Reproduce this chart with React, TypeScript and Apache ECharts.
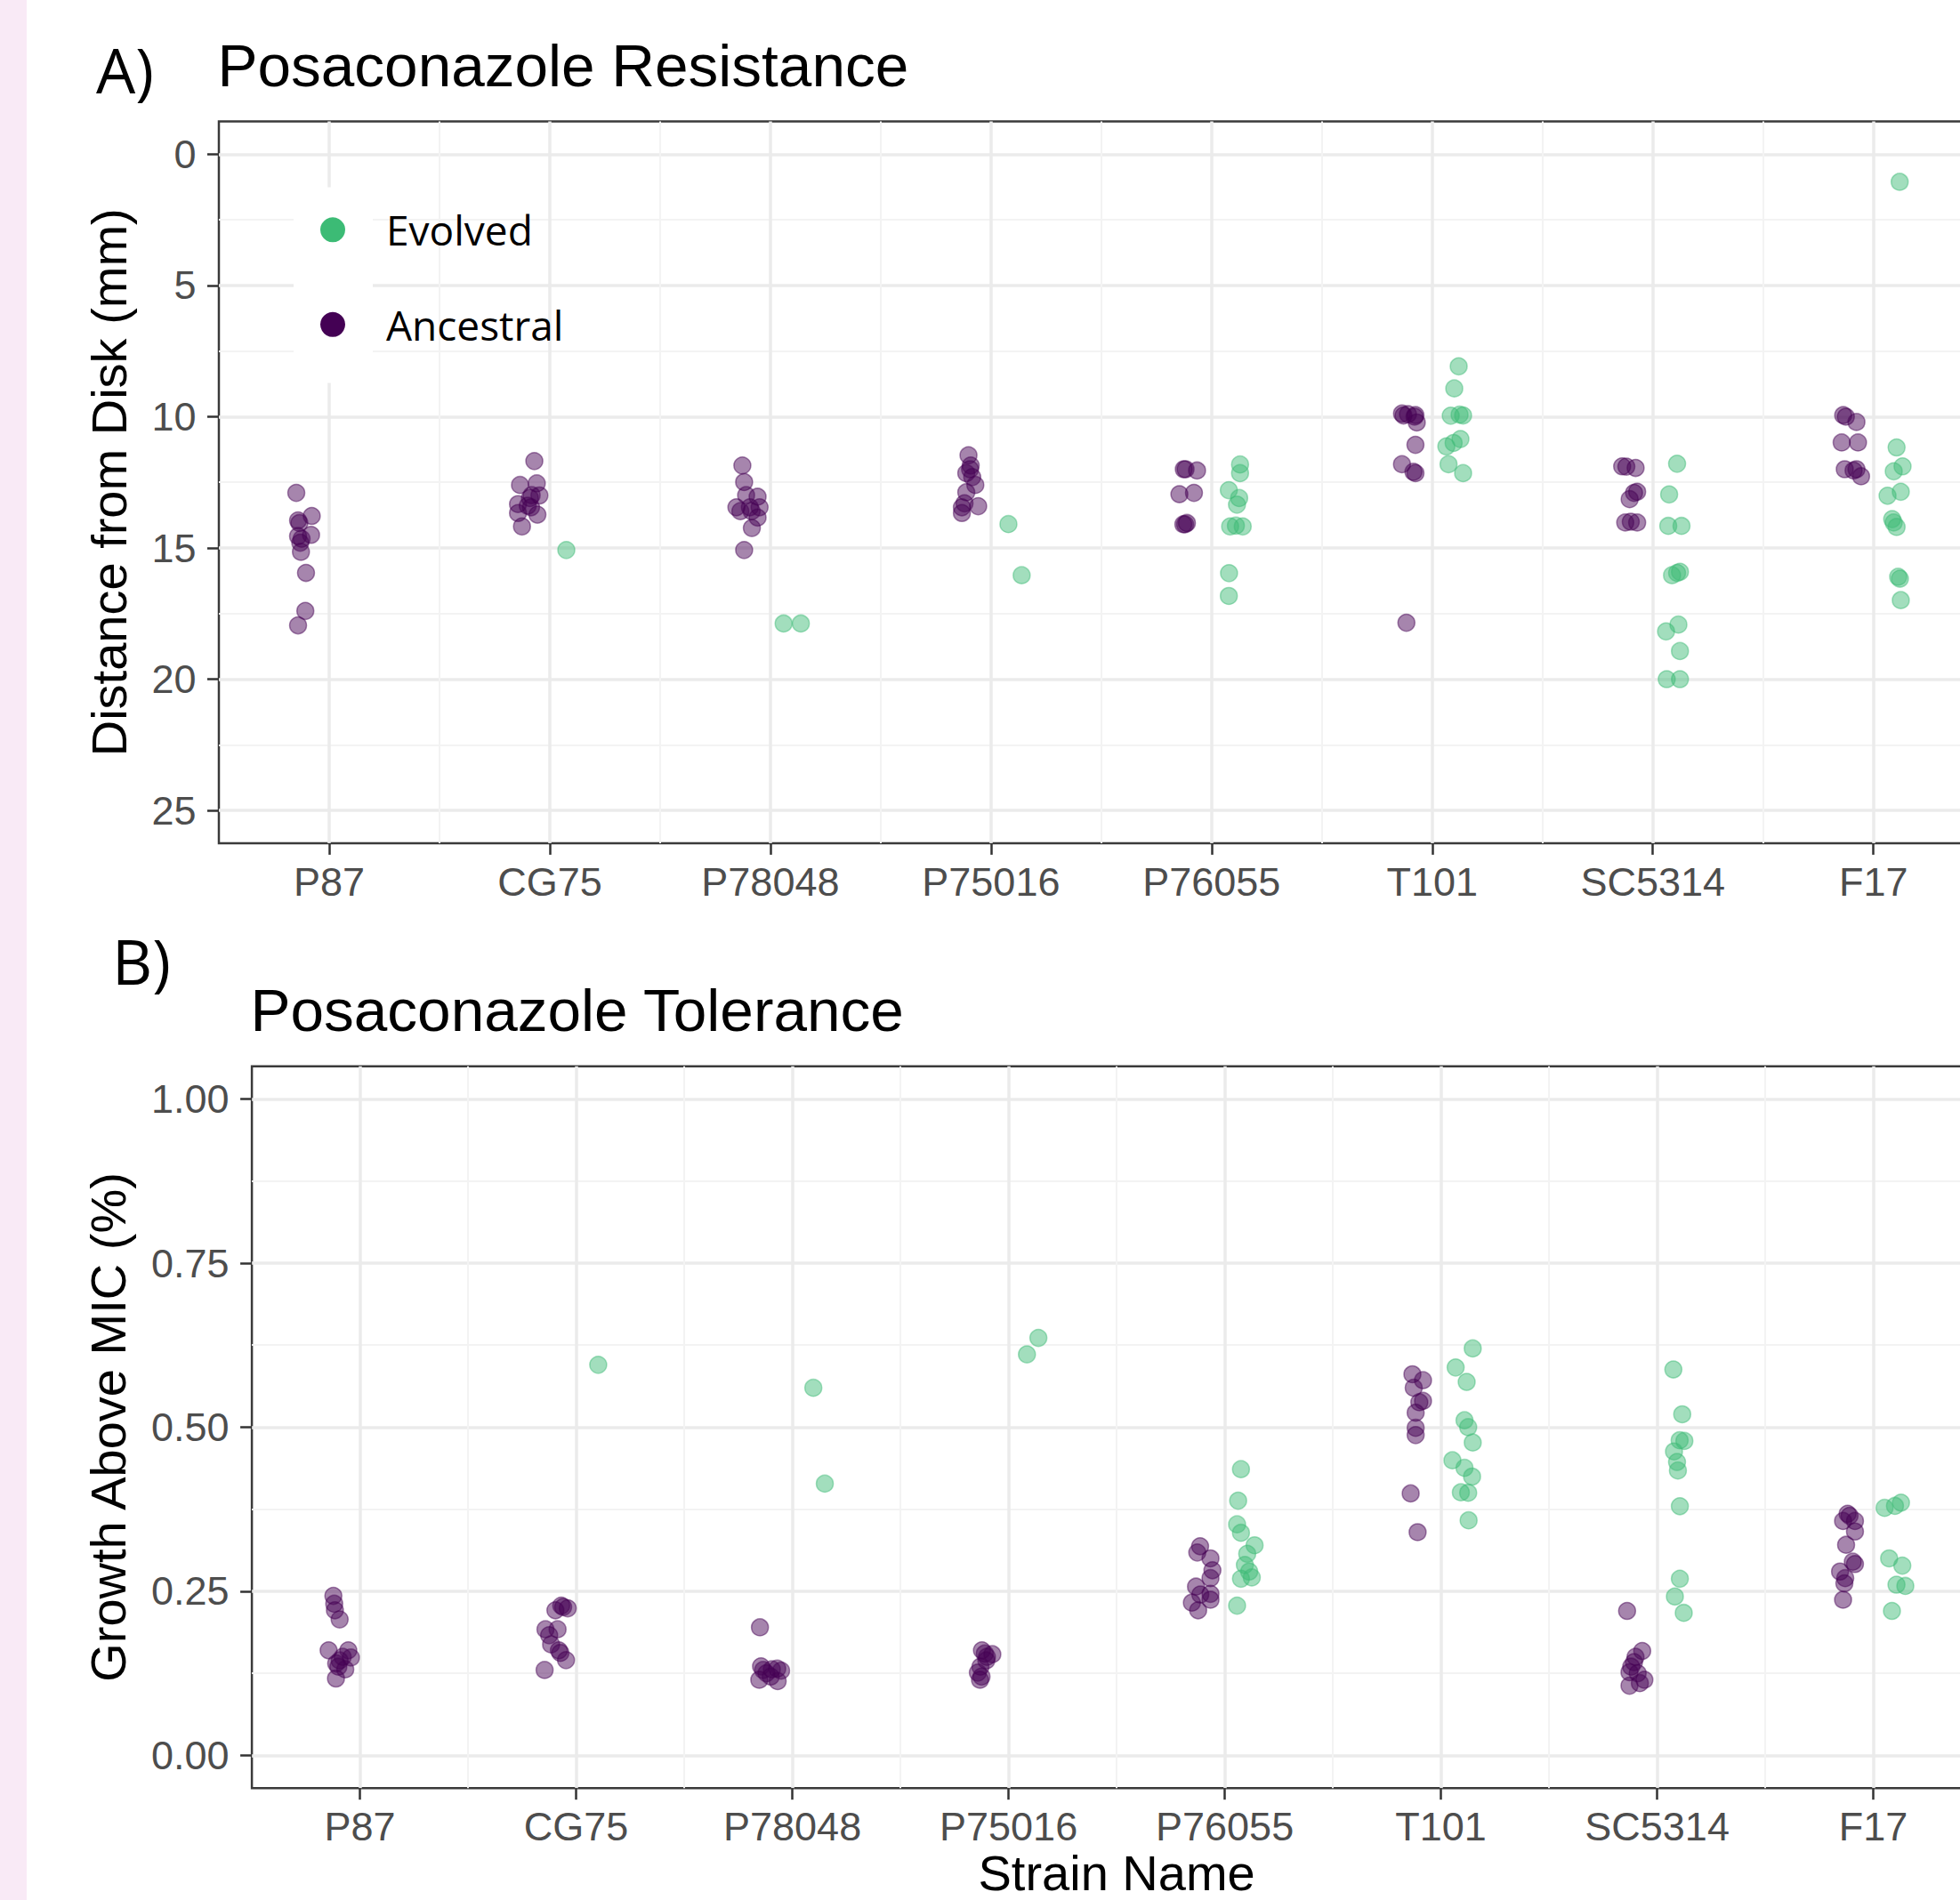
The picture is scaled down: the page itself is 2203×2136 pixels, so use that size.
import React, { useEffect, useRef } from "react";
import * as echarts from "echarts";

// ---------------- data ----------------
const strains = ["P87", "CG75", "P78048", "P75016", "P76055", "T101", "SC5314", "F17"];
const resistanceTicks = [0, 5, 10, 15, 20, 25];
const toleranceTicks = [0, 0.25, 0.5, 0.75, 1];

type Row = [string, number, number]; // [strain, horizontal jitter (category units), value]

// Panel A: distance from disk (mm)
const resistanceAncestral: Row[] = [
  ["P87", -0.149, 12.9], ["P87", -0.141, 13.95], ["P87", -0.135, 14.05], ["P87", -0.079, 13.78],
  ["P87", -0.141, 14.55], ["P87", -0.125, 14.65], ["P87", -0.082, 14.5], ["P87", -0.131, 14.8],
  ["P87", -0.128, 15.15], ["P87", -0.105, 15.95], ["P87", -0.108, 17.4], ["P87", -0.141, 17.95],
  ["CG75", -0.07, 11.69], ["CG75", -0.135, 12.6], ["CG75", -0.059, 12.54], ["CG75", -0.082, 12.99],
  ["CG75", -0.047, 13.0], ["CG75", -0.09, 13.1], ["CG75", -0.144, 13.33], ["CG75", -0.1, 13.39],
  ["CG75", -0.085, 13.45], ["CG75", -0.144, 13.67], ["CG75", -0.056, 13.73], ["CG75", -0.126, 14.18],
  ["P78048", -0.127, 11.86], ["P78048", -0.119, 12.49], ["P78048", -0.11, 12.99], ["P78048", -0.058, 13.05],
  ["P78048", -0.154, 13.45], ["P78048", -0.093, 13.45], ["P78048", -0.049, 13.45], ["P78048", -0.136, 13.6],
  ["P78048", -0.085, 13.6], ["P78048", -0.058, 13.84], ["P78048", -0.084, 14.24], ["P78048", -0.119, 15.08],
  ["P75016", -0.102, 11.47], ["P75016", -0.092, 11.86], ["P75016", -0.095, 12.0], ["P75016", -0.112, 12.15],
  ["P75016", -0.085, 12.3], ["P75016", -0.071, 12.6], ["P75016", -0.112, 12.88], ["P75016", -0.12, 13.3],
  ["P75016", -0.132, 13.45], ["P75016", -0.058, 13.41], ["P75016", -0.132, 13.67],
  ["P76055", -0.126, 12.0], ["P76055", -0.118, 12.0], ["P76055", -0.066, 12.05], ["P76055", -0.146, 12.95],
  ["P76055", -0.08, 12.9], ["P76055", -0.12, 14.1], ["P76055", -0.128, 14.1], ["P76055", -0.112, 14.05],
  ["T101", -0.137, 9.88], ["T101", -0.13, 9.95], ["T101", -0.11, 9.9], ["T101", -0.076, 9.94],
  ["T101", -0.08, 10.0], ["T101", -0.07, 10.22], ["T101", -0.076, 11.07], ["T101", -0.137, 11.81],
  ["T101", -0.076, 12.15], ["T101", -0.085, 12.1], ["T101", -0.117, 17.85],
  ["SC5314", -0.139, 11.89], ["SC5314", -0.12, 11.9], ["SC5314", -0.078, 11.95], ["SC5314", -0.071, 12.86],
  ["SC5314", -0.085, 12.9], ["SC5314", -0.105, 13.14], ["SC5314", -0.125, 14.03], ["SC5314", -0.1, 14.0],
  ["SC5314", -0.071, 14.03],
  ["F17", -0.137, 9.94], ["F17", -0.125, 10.0], ["F17", -0.077, 10.2], ["F17", -0.144, 10.98],
  ["F17", -0.07, 10.98], ["F17", -0.13, 12.0], ["F17", -0.077, 12.0], ["F17", -0.09, 12.05],
  ["F17", -0.056, 12.27],
];

const resistanceEvolved: Row[] = [
  ["CG75", 0.075, 15.08],
  ["P78048", 0.06, 17.88], ["P78048", 0.138, 17.88],
  ["P75016", 0.079, 14.09], ["P75016", 0.139, 16.04],
  ["P76055", 0.129, 11.82], ["P76055", 0.129, 12.15], ["P76055", 0.078, 12.8], ["P76055", 0.125, 13.1],
  ["P76055", 0.115, 13.35], ["P76055", 0.084, 14.18], ["P76055", 0.141, 14.18], ["P76055", 0.11, 14.15],
  ["P76055", 0.079, 15.96], ["P76055", 0.078, 16.83],
  ["T101", 0.12, 8.08], ["T101", 0.1, 8.92], ["T101", 0.084, 9.96], ["T101", 0.124, 9.92],
  ["T101", 0.14, 9.95], ["T101", 0.128, 10.85], ["T101", 0.097, 11.0], ["T101", 0.064, 11.13],
  ["T101", 0.074, 11.81], ["T101", 0.14, 12.15],
  ["SC5314", 0.11, 11.79], ["SC5314", 0.074, 12.96], ["SC5314", 0.07, 14.16], ["SC5314", 0.13, 14.16],
  ["SC5314", 0.123, 15.91], ["SC5314", 0.11, 15.95], ["SC5314", 0.087, 16.04], ["SC5314", 0.116, 17.92],
  ["SC5314", 0.06, 18.18], ["SC5314", 0.123, 18.93], ["SC5314", 0.063, 20.0], ["SC5314", 0.123, 20.0],
  ["F17", 0.119, 1.05], ["F17", 0.105, 11.17], ["F17", 0.132, 11.89], ["F17", 0.092, 12.08],
  ["F17", 0.124, 12.86], ["F17", 0.064, 13.01], ["F17", 0.085, 13.9], ["F17", 0.092, 14.03],
  ["F17", 0.105, 14.2], ["F17", 0.112, 16.1], ["F17", 0.12, 16.17], ["F17", 0.124, 16.99],
];

// Panel B: growth above MIC
const toleranceAncestral: Row[] = [
  ["P87", -0.123, 0.243], ["P87", -0.119, 0.231], ["P87", -0.116, 0.221], ["P87", -0.094, 0.207],
  ["P87", -0.145, 0.16], ["P87", -0.054, 0.16], ["P87", -0.08, 0.15], ["P87", -0.042, 0.149],
  ["P87", -0.094, 0.1445], ["P87", -0.11, 0.14], ["P87", -0.1, 0.135], ["P87", -0.068, 0.131],
  ["P87", -0.111, 0.117],
  ["CG75", -0.069, 0.228], ["CG75", -0.06, 0.226], ["CG75", -0.039, 0.224], ["CG75", -0.096, 0.221],
  ["CG75", -0.142, 0.192], ["CG75", -0.086, 0.192], ["CG75", -0.125, 0.183], ["CG75", -0.116, 0.169],
  ["CG75", -0.08, 0.16], ["CG75", -0.073, 0.156], ["CG75", -0.047, 0.145], ["CG75", -0.146, 0.13],
  ["P78048", -0.15, 0.195], ["P78048", -0.145, 0.1355], ["P78048", -0.135, 0.13], ["P78048", -0.095, 0.131],
  ["P78048", -0.07, 0.132], ["P78048", -0.052, 0.129], ["P78048", -0.12, 0.125], ["P78048", -0.1, 0.12],
  ["P78048", -0.153, 0.115], ["P78048", -0.068, 0.113],
  ["P75016", -0.123, 0.16], ["P75016", -0.11, 0.155], ["P75016", -0.075, 0.154], ["P75016", -0.1, 0.15],
  ["P75016", -0.103, 0.1445], ["P75016", -0.13, 0.135], ["P75016", -0.142, 0.126], ["P75016", -0.125, 0.12],
  ["P75016", -0.132, 0.115],
  ["P76055", -0.114, 0.3186], ["P76055", -0.127, 0.309], ["P76055", -0.066, 0.3], ["P76055", -0.057, 0.282],
  ["P76055", -0.066, 0.27], ["P76055", -0.133, 0.257], ["P76055", -0.066, 0.246], ["P76055", -0.113, 0.245],
  ["P76055", -0.066, 0.237], ["P76055", -0.152, 0.2326], ["P76055", -0.123, 0.221],
  ["T101", -0.132, 0.5806], ["T101", -0.083, 0.5715], ["T101", -0.126, 0.56], ["T101", -0.083, 0.54],
  ["T101", -0.1, 0.538], ["T101", -0.117, 0.522], ["T101", -0.117, 0.499], ["T101", -0.117, 0.488],
  ["T101", -0.14, 0.399], ["T101", -0.108, 0.34],
  ["SC5314", -0.139, 0.22], ["SC5314", -0.069, 0.159], ["SC5314", -0.1, 0.15], ["SC5314", -0.107, 0.142],
  ["SC5314", -0.12, 0.135], ["SC5314", -0.128, 0.1265], ["SC5314", -0.09, 0.125], ["SC5314", -0.059, 0.115],
  ["SC5314", -0.08, 0.11], ["SC5314", -0.128, 0.106],
  ["F17", -0.119, 0.368], ["F17", -0.11, 0.365], ["F17", -0.14, 0.357], ["F17", -0.085, 0.357],
  ["F17", -0.085, 0.341], ["F17", -0.126, 0.3207], ["F17", -0.095, 0.295], ["F17", -0.085, 0.2915],
  ["F17", -0.154, 0.28], ["F17", -0.13, 0.27], ["F17", -0.134, 0.262], ["F17", -0.14, 0.237],
];

const toleranceEvolved: Row[] = [
  ["CG75", 0.102, 0.595],
  ["P78048", 0.097, 0.56], ["P78048", 0.15, 0.414],
  ["P75016", 0.085, 0.611], ["P75016", 0.138, 0.636],
  ["P76055", 0.075, 0.436], ["P76055", 0.062, 0.388], ["P76055", 0.057, 0.352], ["P76055", 0.075, 0.339],
  ["P76055", 0.138, 0.32], ["P76055", 0.104, 0.307], ["P76055", 0.093, 0.29], ["P76055", 0.113, 0.28],
  ["P76055", 0.125, 0.271], ["P76055", 0.075, 0.269], ["P76055", 0.057, 0.228],
  ["T101", 0.147, 0.62], ["T101", 0.068, 0.591], ["T101", 0.119, 0.569], ["T101", 0.109, 0.5105],
  ["T101", 0.126, 0.5], ["T101", 0.147, 0.4766], ["T101", 0.053, 0.4495], ["T101", 0.109, 0.438],
  ["T101", 0.144, 0.4247], ["T101", 0.092, 0.4007], ["T101", 0.126, 0.4], ["T101", 0.128, 0.358],
  ["SC5314", 0.075, 0.588], ["SC5314", 0.116, 0.5196], ["SC5314", 0.126, 0.479], ["SC5314", 0.104, 0.48],
  ["SC5314", 0.078, 0.463], ["SC5314", 0.092, 0.447], ["SC5314", 0.096, 0.434], ["SC5314", 0.105, 0.3796],
  ["SC5314", 0.105, 0.269], ["SC5314", 0.082, 0.242], ["SC5314", 0.123, 0.217],
  ["F17", 0.052, 0.377], ["F17", 0.128, 0.385], ["F17", 0.1, 0.38], ["F17", 0.073, 0.3],
  ["F17", 0.134, 0.289], ["F17", 0.107, 0.26], ["F17", 0.148, 0.258], ["F17", 0.086, 0.22],
];

// ---------------- styles ----------------
const PURPLE = "#440154";
const GREEN = "#3CBB75";
const ALPHA = 0.6;
const FONT = "'Liberation Sans', Arial, sans-serif";
const KEY_FONT = "'Open Sans', Lato, sans-serif";
const MAJOR = "#EBEBEB";
const MINOR = "#F3F3F3";
const BORDER = "#3a3a3a";
const TICK = "#333333";
const LABEL = "#4D4D4D";

function rgba(hex: string, a: number) {
  const n = parseInt(hex.slice(1), 16);
  return `rgba(${(n >> 16) & 255},${(n >> 8) & 255},${n & 255},${a})`;
}

const toPoints = (rows: Row[]) => rows.map(([s, off, v]) => [strains.indexOf(s) + 1 + off, v]);

type PanelCfg = {
  left: number; top: number; band: number; height: number;
  ticks: number[]; inverse: boolean; decimals: number;
  yName: string; yNameGap: number; xName: string;
  ancestral: Row[]; evolved: Row[];
};

const panelA: PanelCfg = {
  left: 246, top: 136.6, band: 247.96, height: 811.3,
  ticks: resistanceTicks, inverse: true, decimals: 0,
  yName: "Distance from Disk (mm)", yNameGap: 96, xName: "",
  ancestral: resistanceAncestral, evolved: resistanceEvolved,
};
const panelB: PanelCfg = {
  left: 283.1, top: 1198.7, band: 243, height: 811.5,
  ticks: toleranceTicks, inverse: false, decimals: 2,
  yName: "Growth Above MIC (%)", yNameGap: 134, xName: "Strain Name",
  ancestral: toleranceAncestral, evolved: toleranceEvolved,
};

function buildPanel(p: PanelCfg, base: number) {
  const n = strains.length;
  const W = n * p.band;
  const grids = [
    { left: p.left, top: p.top, width: W, height: p.height, show: true, borderColor: BORDER, borderWidth: 2.5, backgroundColor: "transparent" },
    { left: p.left + p.band / 2, top: p.top, width: W - p.band, height: p.height },
    { left: p.left, top: p.top + (p.height * 0.05) / 1.1, width: W, height: p.height / 1.1 },
  ];
  const tickStyle = { color: TICK, width: 2.5 };
  const xAxes: any[] = [
    {
      gridIndex: base, type: "category", data: strains, boundaryGap: true,
      axisLine: { show: false },
      axisTick: { show: true, alignWithLabel: true, interval: 0, length: 13, lineStyle: tickStyle },
      axisLabel: { interval: 0, margin: 21, fontSize: 45, color: LABEL, fontFamily: FONT },
      splitLine: { show: true, interval: 0, showMinLine: false, showMaxLine: false, lineStyle: { color: MINOR, width: 2 } },
      name: p.xName, nameLocation: "middle", nameGap: 71,
      nameTextStyle: { fontSize: 56, lineHeight: 44, color: "#000", fontFamily: FONT },
    },
    {
      gridIndex: base + 1, type: "value", min: 1, max: n, interval: 1,
      axisLine: { show: false }, axisTick: { show: false }, axisLabel: { show: false },
      splitLine: { show: true, lineStyle: { color: MAJOR, width: 3.5 } },
    },
    { gridIndex: base + 2, type: "value", min: 0.5, max: n + 0.5, show: false },
  ];
  const t = p.ticks;
  const yAxes: any[] = [
    { gridIndex: base, type: "value", min: 0, max: 1, show: false },
    { gridIndex: base + 1, type: "value", min: 0, max: 1, show: false },
    {
      gridIndex: base + 2, type: "value", min: t[0], max: t[t.length - 1], interval: t[1] - t[0],
      inverse: p.inverse,
      axisLine: { show: false },
      axisTick: { show: true, length: 13, lineStyle: tickStyle },
      axisLabel: {
        margin: 25.5, fontSize: 45, color: LABEL, fontFamily: FONT,
        formatter: (v: number) => v.toFixed(p.decimals),
      },
      splitLine: { show: true, lineStyle: { color: MAJOR, width: 3.5 } },
      minorTick: { show: false, splitNumber: 2 },
      minorSplitLine: { show: true, lineStyle: { color: MINOR, width: 2 } },
      name: p.yName, nameLocation: "middle", nameGap: p.yNameGap,
      nameTextStyle: { fontSize: 56, color: "#000", fontFamily: FONT },
    },
  ];
  const pointStyle = (hex: string) => ({
    color: rgba(hex, ALPHA), borderColor: rgba(hex, ALPHA), borderWidth: 1.5,
  });
  const series: any[] = [
    {
      type: "scatter", name: "Ancestral", xAxisIndex: base + 2, yAxisIndex: base + 2,
      data: toPoints(p.ancestral), symbol: "circle", symbolSize: 19, clip: false, silent: true,
      itemStyle: pointStyle(PURPLE), z: 3,
    },
    {
      type: "scatter", name: "Evolved", xAxisIndex: base + 2, yAxisIndex: base + 2,
      data: toPoints(p.evolved), symbol: "circle", symbolSize: 19, clip: false, silent: true,
      itemStyle: pointStyle(GREEN), z: 3,
    },
  ];
  return { grids, xAxes, yAxes, series };
}

export default function App() {
  const ref = useRef<HTMLDivElement>(null);
  useEffect(() => {
    if (!ref.current) return;
    const chart = echarts.init(ref.current, undefined, { renderer: "svg" });
    const a = buildPanel(panelA, 0);
    const b = buildPanel(panelB, 3);
    const titleStyle = { fontSize: 67.5, fontWeight: "normal", color: "#000", fontFamily: FONT };
    const tagStyle = { fontSize: 70, fontWeight: "normal", color: "#000", fontFamily: KEY_FONT };
    const option: any = {
      animation: false,
      backgroundColor: "#ffffff",
      textStyle: { fontFamily: FONT },
      title: [
        { text: "A)", left: 108, top: 43, padding: 0, textStyle: tagStyle },
        { text: "Posaconazole Resistance", left: 244.5, top: 39.5, padding: 0, textStyle: titleStyle },
        { text: "B)", left: 126, top: 1044.5, padding: 0, textStyle: tagStyle },
        { text: "Posaconazole Tolerance", left: 281.5, top: 1101, padding: 0, textStyle: titleStyle },
      ],
      legend: {
        orient: "vertical", left: 360, top: 235.3, padding: 0,
        itemWidth: 28, itemHeight: 28, itemGap: 60.5, icon: "circle", selectedMode: false,
        itemStyle: { borderWidth: 0, opacity: 1 },
        data: [
          { name: "Evolved", itemStyle: { color: GREEN, opacity: 1, borderWidth: 0 } },
          { name: "Ancestral", itemStyle: { color: PURPLE, opacity: 1, borderWidth: 0 } },
        ],
        textStyle: { fontSize: 46, color: "#000", fontFamily: KEY_FONT, padding: [0, 0, 0, 41] },
      },
      graphic: [
        { type: "rect", z: 0, silent: true, shape: { x: 0, y: 0, width: 30, height: 2200 }, style: { fill: "#F9EAF6" } },
        { type: "rect", z: 3, silent: true, shape: { x: 330, y: 210.5, width: 89, height: 220 }, style: { fill: "#ffffff" } },
      ],
      grid: [...a.grids, ...b.grids],
      xAxis: [...a.xAxes, ...b.xAxes],
      yAxis: [...a.yAxes, ...b.yAxes],
      series: [...a.series, ...b.series],
    };
    chart.setOption(option);
    return () => chart.dispose();
  }, []);
  return (
    <div style={{ position: "fixed", left: 0, top: 0, width: 2203, height: 2136, overflow: "hidden", background: "#fff" }}>
      <div ref={ref} style={{ width: 2300, height: 2200 }} />
    </div>
  );
}
